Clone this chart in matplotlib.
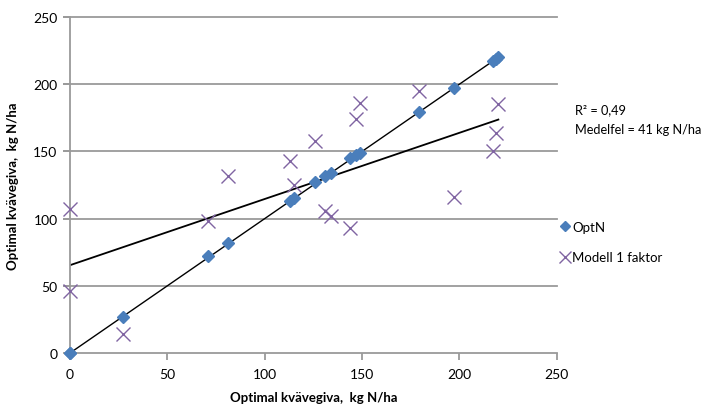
import matplotlib.pyplot as plt
import numpy as np

# Optimal kvävegiva (x) and model values
optn_x = [0, 0, 27, 71, 81, 113, 115, 126, 131, 134, 144, 147, 149, 179, 197, 217, 219, 220]
optn_y = [0, 0, 27, 72, 82, 113, 115, 127, 132, 134, 145, 147, 149, 179, 197, 217, 219, 220]
modell_x = [0, 0, 27, 71, 81, 113, 115, 126, 131, 134, 144, 147, 149, 179, 197, 217, 219, 220]
modell_y = [107, 46, 14, 98, 132, 143, 125, 158, 106, 102, 93, 174, 186, 195, 116, 150, 164, 185]

plt.rcParams['font.family'] = ['Lato', 'DejaVu Sans']

fig = plt.figure(figsize=(7.08, 4.10), dpi=100)
ax = fig.add_axes([0.0989, 0.1366, 0.6875, 0.8195])

grid_col = '#9a9a9a'
for y in [50, 100, 150, 200, 250]:
    ax.plot([-3, 250], [y, y], color=grid_col, lw=1.3, clip_on=False, zorder=1)

# trendlinjer
ax.plot([0, 220], [0, 220], color='black', lw=1, zorder=2)
k, m = np.polyfit(modell_x, modell_y, 1)
ax.plot([0, 220], [m, m + k * 220], color='black', lw=1.3, zorder=2)

ax.plot(optn_x, optn_y, 'D', color='#4a7ebb', markersize=6.3, label='OptN', clip_on=False, zorder=3)
ax.plot(modell_x, modell_y, 'x', color='#8064a2', markersize=10, markeredgewidth=1.0,
        label='Modell 1 faktor', clip_on=False, zorder=3)

ax.set_xlim(0, 250)
ax.set_ylim(0, 250)
ax.set_xticks([0, 50, 100, 150, 200, 250])
ax.set_yticks([0, 50, 100, 150, 200, 250])
for s in ['top', 'right']:
    ax.spines[s].set_visible(False)
for s in ['left', 'bottom']:
    ax.spines[s].set_color(grid_col)
    ax.spines[s].set_linewidth(1.3)
ax.tick_params(axis='x', length=5, color=grid_col, width=1.3, labelsize=10, pad=6)
ax.tick_params(axis='y', length=5, color=grid_col, width=1.3, labelsize=10, pad=4)

ax.set_xlabel('Optimal kvävegiva,  kg N/ha', fontsize=9.5, fontweight='bold', labelpad=8)
ax.set_ylabel('Optimal kvävegiva,  kg N/ha', fontsize=9.5, fontweight='bold', labelpad=10)

fig.text(0.812, 0.707, 'R² = 0,49\nMedelfel = 41 kg N/ha', fontsize=9.2, va='center', linespacing=1.7)

ax.legend(loc='center left', bbox_to_anchor=(0.98, 0.33), frameon=False, fontsize=9.5,
          handletextpad=0.1, handlelength=0.9, labelspacing=1.4, markerscale=0.8)

fig.savefig('out.png', dpi=100)
